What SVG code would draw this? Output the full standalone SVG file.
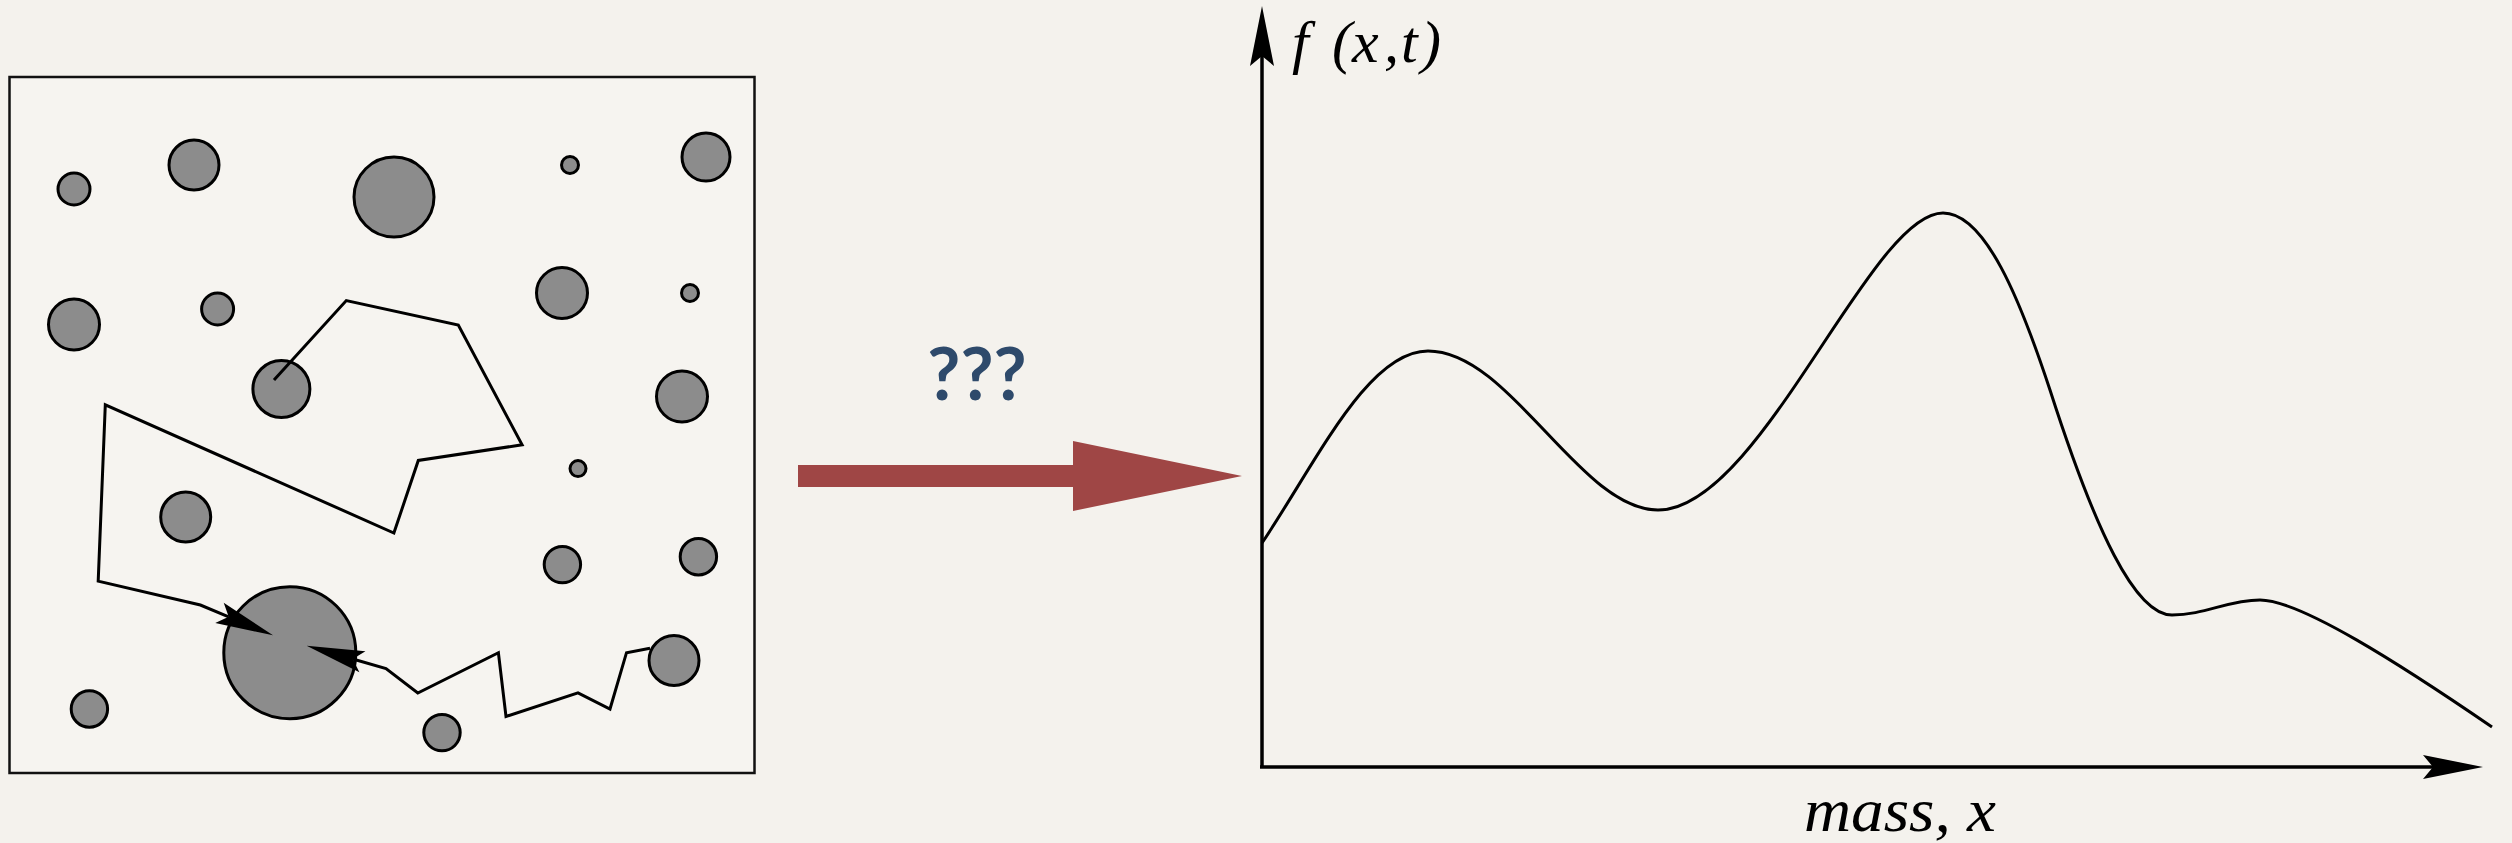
<svg xmlns="http://www.w3.org/2000/svg" width="2512" height="843" viewBox="0 0 2512 843">
<style>
.p{fill:#8c8c8c;stroke:#000;stroke-width:3}
.path{fill:none;stroke:#000;stroke-width:3;stroke-linejoin:miter}
.ax{fill:none;stroke:#000;stroke-width:3.5}
.lbl{font-family:"Liberation Serif","Times New Roman",serif;font-style:italic;fill:#000}
</style>
<defs>
<marker id="ah" markerUnits="userSpaceOnUse" orient="auto" refX="0" refY="0" markerWidth="1" markerHeight="1" overflow="visible">
<path d="M48,0 L-10,-11 L0,0 L-10,11 Z" fill="#000"/>
</marker>
<marker id="axh" markerUnits="userSpaceOnUse" orient="auto" refX="0" refY="0" markerWidth="1" markerHeight="1" overflow="visible">
<path d="M50,0 L-10,-12 L0,0 L-10,12 Z" fill="#000"/>
</marker>
</defs>
<rect width="2512" height="843" fill="#f4f2ed"/>
<g id="box">
<rect x="9.5" y="77" width="745" height="696" fill="#f6f4f0" stroke="#111" stroke-width="2.5"/>
</g>
<g id="particles">
<circle class="p" cx="74" cy="189" r="16"/>
<circle class="p" cx="194" cy="165" r="25"/>
<circle class="p" cx="394" cy="197" r="40"/>
<circle class="p" cx="570" cy="165" r="8.5"/>
<circle class="p" cx="706" cy="157" r="24"/>
<circle class="p" cx="74" cy="324.5" r="25.5"/>
<circle class="p" cx="217.6" cy="309" r="16"/>
<circle class="p" cx="562" cy="293" r="25.5"/>
<circle class="p" cx="690" cy="293" r="8.5"/>
<circle class="p" cx="281.4" cy="389" r="28.5"/>
<circle class="p" cx="682" cy="396.5" r="25.5"/>
<circle class="p" cx="578" cy="468.6" r="8"/>
<circle class="p" cx="185.7" cy="517" r="25"/>
<circle class="p" cx="562.4" cy="564.6" r="18.2"/>
<circle class="p" cx="698.4" cy="556.8" r="18.2"/>
<circle class="p" cx="289.8" cy="652.7" r="66"/>
<circle class="p" cx="674" cy="660.5" r="25"/>
<circle class="p" cx="89.4" cy="709" r="18.2"/>
<circle class="p" cx="442" cy="732.6" r="18.2"/>
</g>
<g id="connectors">
<polyline class="path" points="274,380 346.3,300.6 458.3,325 522.1,444.8 418.3,460.4 393.9,533 105.3,404.8 98.2,581.1 200.4,605 228.7,616.8" marker-end="url(#ah)"/>
<polyline class="path" points="650,648.3 626.5,652.7 610,709 578,692.9 506,716.5 498.4,652.7 417.8,693 386,668.5 352.8,659" marker-end="url(#ah)"/>
<polygon id="bigarrow" points="798,465 1073,465 1073,441 1242,476 1073,511 1073,487 798,487" fill="#9f4645"/>
</g>
<g id="qmarks">
<text x="977" y="400" text-anchor="middle" font-family="Lato,'Open Sans',sans-serif" font-weight="700" font-size="72" fill="#2e4a6b">???</text>
</g>
<g id="plot">
<line class="ax" x1="1262" y1="768" x2="1262" y2="56" marker-end="url(#axh)"/>
<line class="ax" x1="1260" y1="767" x2="2433" y2="767" marker-end="url(#axh)"/>
<path fill="none" stroke="#000" stroke-width="3" d="M1262,543 C1317,461 1368,351 1428,351 C1510,351 1580,510 1658,510 C1760,510 1870,213 1943,213 C1985,213 2020,299 2050,390 C2095,530 2135,615 2172,615 C2205,615 2228,600 2260,600 C2300,600 2400,664 2492,727"/>
<text class="lbl" y="62" font-size="60"><tspan x="1292">f</tspan><tspan x="1332 1352 1384 1401 1421">(x,t)</tspan></text>
<text class="lbl" x="1804" y="831" font-size="62" textLength="192" lengthAdjust="spacingAndGlyphs">mass, x</text>
</g>
</svg>
